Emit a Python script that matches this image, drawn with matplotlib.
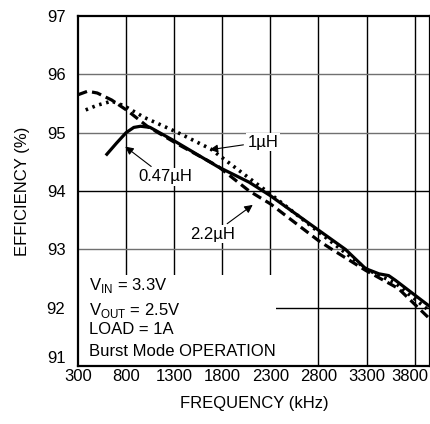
import matplotlib
matplotlib.use('Agg')
import matplotlib.pyplot as plt
from matplotlib.patches import Rectangle
from matplotlib.transforms import offset_copy

plt.rcParams['font.family'] = ['Liberation Sans', 'DejaVu Sans']
plt.rcParams['mathtext.fontset'] = 'custom'
plt.rcParams['mathtext.rm'] = 'Liberation Sans'

# 0.47uH (solid)
f_047 = [600, 700, 800, 880, 950, 1050, 1300, 1750, 2080, 2300, 2800, 3080, 3290, 3430, 3530, 3600, 3950]
e_047 = [94.63, 94.82, 95.0, 95.09, 95.11, 95.09, 94.86, 94.42, 94.15, 93.92, 93.33, 93.0, 92.67, 92.58, 92.55, 92.47, 92.03]

# 2.2uH (dashed)
f_22 = [300, 400, 500, 650, 820, 1020, 1340, 1750, 2080, 2300, 2800, 2940, 3290, 3630, 3950]
e_22 = [95.65, 95.71, 95.68, 95.56, 95.37, 95.11, 94.80, 94.43, 94.0, 93.78, 93.15, 93.0, 92.64, 92.33, 91.82]

# 1uH (dotted)
f_1 = [380, 500, 650, 780, 990, 1340, 1680, 2080, 2300, 2800, 3300, 3600, 3950]
e_1 = [95.39, 95.47, 95.54, 95.46, 95.26, 95.0, 94.72, 94.22, 93.95, 93.3, 92.66, 92.42, 91.95]

xticks = [300, 800, 1300, 1800, 2300, 2800, 3300, 3800]
yticks = [91, 92, 93, 94, 95, 96, 97]

fig = plt.figure(figsize=(4.31, 4.24), dpi=100)
ax = fig.add_axes([78/431, 58/424, 352/431, 350/424])

fs = 12

ax.set_xlim(300, 3960)
ax.set_ylim(91, 97)
ax.set_xticks(xticks)
ax.set_yticks(yticks)
ax.tick_params(length=0, labelsize=fs, pad=2)
ax.tick_params(axis='y', pad=9)
ax.get_yticklabels()[0].set_va('bottom')
last = ax.get_xticklabels()[-1]
last.set_transform(offset_copy(last.get_transform(), fig=fig, x=-5, y=0, units='dots'))

# grid
for x in xticks[1:]:
    ax.axvline(x, color='black', lw=1.0, zorder=0.5)
for y in [92, 93, 94, 95, 96]:
    c = 'black' if y in (92, 94) else '#707070'
    ax.axhline(y, color=c, lw=1.0, zorder=0.5)

for s in ax.spines.values():
    s.set_linewidth(1.6)

# white box behind the conditions text
ax.add_patch(Rectangle((0, 0), 0.5625, 0.26, transform=ax.transAxes,
                       facecolor='white', edgecolor='none', zorder=1))

ax.plot(f_22, e_22, color='black', lw=2.3, linestyle=(0, (3, 1.6)), zorder=3)
ax.plot(f_1, e_1, color='black', lw=2.6, linestyle=(0, (0.7, 1.3)), zorder=3)
ax.plot(f_047, e_047, color='black', lw=2.3, zorder=4)

ax.set_xlabel('FREQUENCY (kHz)', fontsize=fs, labelpad=9)
ax.set_ylabel('EFFICIENCY (%)', fontsize=fs, labelpad=12)

arrow = dict(arrowstyle='-|>', color='black', lw=0.8, mutation_scale=12)
box = dict(facecolor='white', edgecolor='none', pad=1)
ax.annotate('1µH', xy=(1641, 94.70), xytext=(2223, 94.84), fontsize=fs,
            ha='center', va='center', arrowprops=arrow, bbox=box, zorder=5)
ax.annotate('0.47µH', xy=(768, 94.79), xytext=(1204, 94.24), fontsize=fs,
            ha='center', va='center', arrowprops=arrow, bbox=box, zorder=5)
ax.annotate('2.2µH', xy=(2140, 93.79), xytext=(1703, 93.26), fontsize=fs,
            ha='center', va='center', arrowprops=arrow, bbox=box, zorder=5)

tx = 0.031
ax.text(tx, 0.231, r'V$_\mathregular{IN}$ = 3.3V', transform=ax.transAxes, fontsize=fs, va='center', zorder=5)
ax.text(tx, 0.160, r'V$_\mathregular{OUT}$ = 2.5V', transform=ax.transAxes, fontsize=fs, va='center', zorder=5)
ax.text(tx, 0.103, 'LOAD = 1A', transform=ax.transAxes, fontsize=fs, va='center', zorder=5)
ax.text(tx, 0.040, 'Burst Mode OPERATION', transform=ax.transAxes, fontsize=fs, va='center', zorder=5)

fig.savefig('out.png', dpi=100)
